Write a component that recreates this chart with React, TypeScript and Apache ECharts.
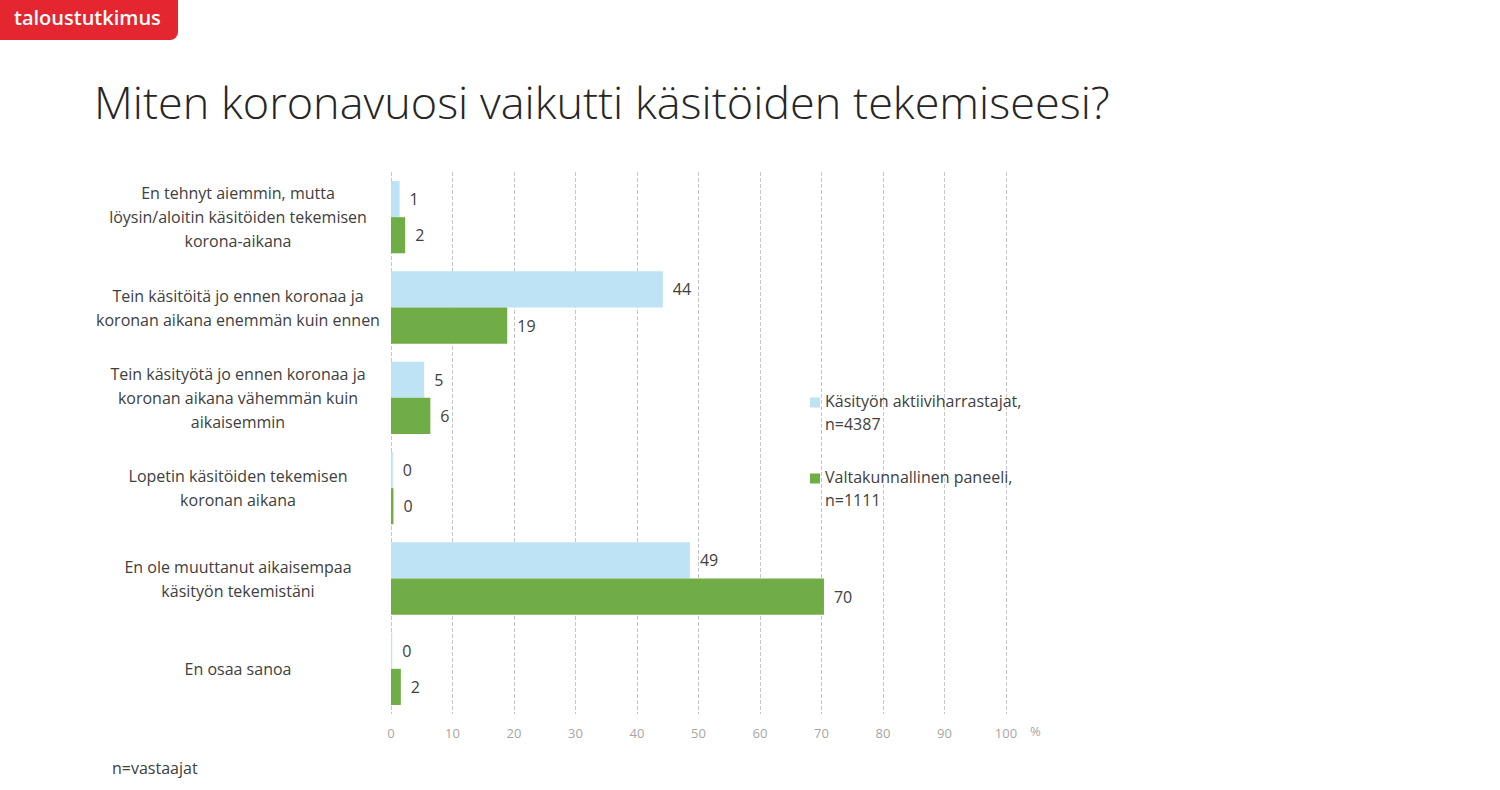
import React, { useEffect, useRef } from "react";
import * as echarts from "echarts";

const categories = [
  "En tehnyt aiemmin, mutta\nlöysin/aloitin käsitöiden tekemisen\nkorona-aikana",
  "Tein käsitöitä jo ennen koronaa ja\nkoronan aikana enemmän kuin ennen",
  "Tein käsityötä jo ennen koronaa ja\nkoronan aikana vähemmän kuin\naikaisemmin",
  "Lopetin käsitöiden tekemisen\nkoronan aikana",
  "En ole muuttanut aikaisempaa\nkäsityön tekemistäni",
  "En osaa sanoa",
];
const seriesNames = ["Käsityön aktiiviharrastajat,\nn=4387", "Valtakunnallinen paneeli,\nn=1111"];
const activeValues = [1.4, 44.2, 5.4, 0.3, 48.6, 0.2];
const panelValues = [2.3, 18.9, 6.4, 0.4, 70.4, 1.6];

const FONT = "'Open Sans', 'Noto Sans', sans-serif";
const TEXT = "#404040";
const LEGEND_ICON = "path://M0,8.5H10V18.5H0Z M0,0H0.01V0.01H0Z M0,46H0.01V46.01H0Z";

export default function App() {
  const ref = useRef<HTMLDivElement>(null);
  useEffect(() => {
    if (!ref.current) return;
    const chart = echarts.init(ref.current, undefined, { renderer: "svg" });
    const label = {
      show: true,
      position: "right",
      distance: 10,
      color: TEXT,
      fontSize: 16,
      fontFamily: FONT,
      formatter: (p: any) => String(Math.round(p.value)),
    };
    chart.setOption({
      animation: false,
      backgroundColor: "#ffffff",
      textStyle: { fontFamily: FONT },
      title: {
        text: "Miten koronavuosi vaikutti käsitöiden tekemiseesi?",
        left: 89,
        top: 74,
        textStyle: { fontSize: 45, fontWeight: 300, color: "#262626", fontFamily: FONT },
      },
      legend: {
        orient: "vertical",
        left: 805,
        top: 384,
        itemWidth: 10,
        itemHeight: 46,
        itemGap: 30,
        icon: LEGEND_ICON,
        textStyle: { fontSize: 16, color: TEXT, lineHeight: 23, fontFamily: FONT },
        data: seriesNames,
      },
      grid: { left: 391, right: 494, top: 172, bottom: 76 },
      xAxis: {
        type: "value",
        min: 0,
        max: 100,
        interval: 10,
        axisLine: { show: false },
        axisTick: { show: false },
        axisLabel: { color: "#a6a6a6", fontSize: 13, margin: 12, fontFamily: FONT },
        splitLine: { show: true, lineStyle: { color: "#c6c6c6", type: "dashed", width: 1 } },
      },
      yAxis: {
        type: "category",
        inverse: true,
        data: categories,
        axisLine: { show: false },
        axisTick: { show: false },
        axisLabel: {
          color: TEXT,
          fontSize: 16,
          lineHeight: 24,
          align: "center",
          margin: 153,
          fontFamily: FONT,
        },
      },
      series: [
        {
          name: seriesNames[0],
          type: "bar",
          data: activeValues,
          itemStyle: { color: "#bde3f5" },
          barGap: "0%",
          barCategoryGap: "20%",
          label,
        },
        {
          name: seriesNames[1],
          type: "bar",
          data: panelValues,
          itemStyle: { color: "#70ad47" },
          barGap: "0%",
          barCategoryGap: "20%",
          label,
        },
      ],
      graphic: [
        {
          type: "rect",
          left: 0,
          top: 0,
          shape: { width: 178, height: 40, r: [0, 0, 8, 0] },
          style: { fill: "#e3262f" },
        },
        {
          type: "text",
          left: 14,
          top: 7,
          style: { text: "taloustutkimus", fill: "#ffffff", fontSize: 20, fontWeight: 600, fontFamily: FONT },
        },
        {
          type: "text",
          left: 1030,
          top: 724,
          style: { text: "%", fill: "#a6a6a6", fontSize: 13, fontFamily: FONT },
        },
        {
          type: "text",
          left: 112,
          top: 760,
          style: { text: "n=vastaajat", fill: TEXT, fontSize: 16, fontFamily: FONT },
        },
      ],
    });
    return () => chart.dispose();
  }, []);
  return (
    <div
      ref={ref}
      style={{ position: "absolute", left: 0, top: 0, width: 1500, height: 790 }}
    />
  );
}
